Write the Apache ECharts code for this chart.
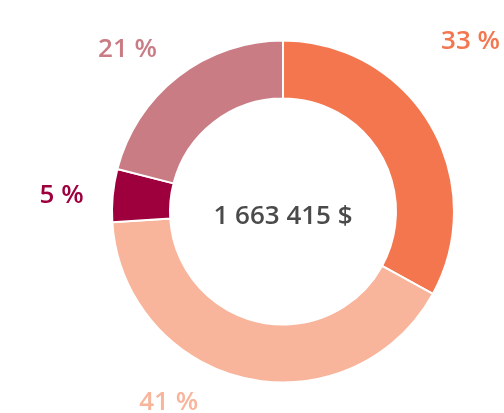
<!DOCTYPE html>
<html>
<head>
<meta charset="utf-8">
<script src="https://cdn.jsdelivr.net/npm/echarts@6/dist/echarts.min.js"></script>
<style>
  html, body { margin: 0; padding: 0; background: #fff; }
  #chart { width: 504px; height: 413px; }
</style>
</head>
<body>
<div id="chart"></div>
<script>
// parts of the total, in percent, clockwise from 12 o'clock
var shares = [33, 41, 5, 21];
var colors = ['#F3764F', '#F8B59B', '#9E003E', '#C97C84'];
var total = 1663415;

// where each percent label sits: angle from top (deg, clockwise) and distance from centre
var labelAngle = [47.6, 211, 274.3, 316.3];
var labelDist = [254, 222, 222, 225];

var cx = 283, cy = 211.5;

//千位用空格分隔
function fmtTotal(n) {
    return String(n).replace(/\B(?=(\d{3})+(?!\d))/g, ' ') + ' $';
}

var pieData = [];
for (var i = 0; i < shares.length; i++) {
    pieData.push({
        value: shares[i],
        itemStyle: { color: colors[i] },
        label: { color: colors[i] }
    });
}

var myChart = echarts.init(document.getElementById('chart'));
myChart.setOption({
    animation: false,
    graphic: [{
        type: 'text',
        x: cx,
        y: cy + 5,
        z: 10,
        style: {
            text: fmtTotal(total),
            align: 'center',
            verticalAlign: 'middle',
            fill: '#4a4a4a',
            fontFamily: 'Open Sans',
            fontWeight: 600,
            fontSize: 26
        }
    }],
    series: [{
        type: 'pie',
        center: [cx, cy],
        radius: [113, 171],
        startAngle: 90,
        clockwise: true,
        data: pieData,
        itemStyle: { borderColor: '#fff', borderWidth: 2 },
        label: {
            show: true,
            position: 'outside',
            formatter: '{c} %',
            fontFamily: 'Open Sans',
            fontWeight: 600,
            fontSize: 26,
            overflow: 'none',
            bleedMargin: 0
        },
        labelLine: { show: false },
        labelLayout: function (p) {
            var a = labelAngle[p.dataIndex] * Math.PI / 180;
            var r = labelDist[p.dataIndex];
            return {
                x: cx + r * Math.sin(a),
                y: cy - r * Math.cos(a) + 1,
                align: 'center',
                verticalAlign: 'middle',
                width: 100
            };
        }
    }]
});
</script>
</body>
</html>
